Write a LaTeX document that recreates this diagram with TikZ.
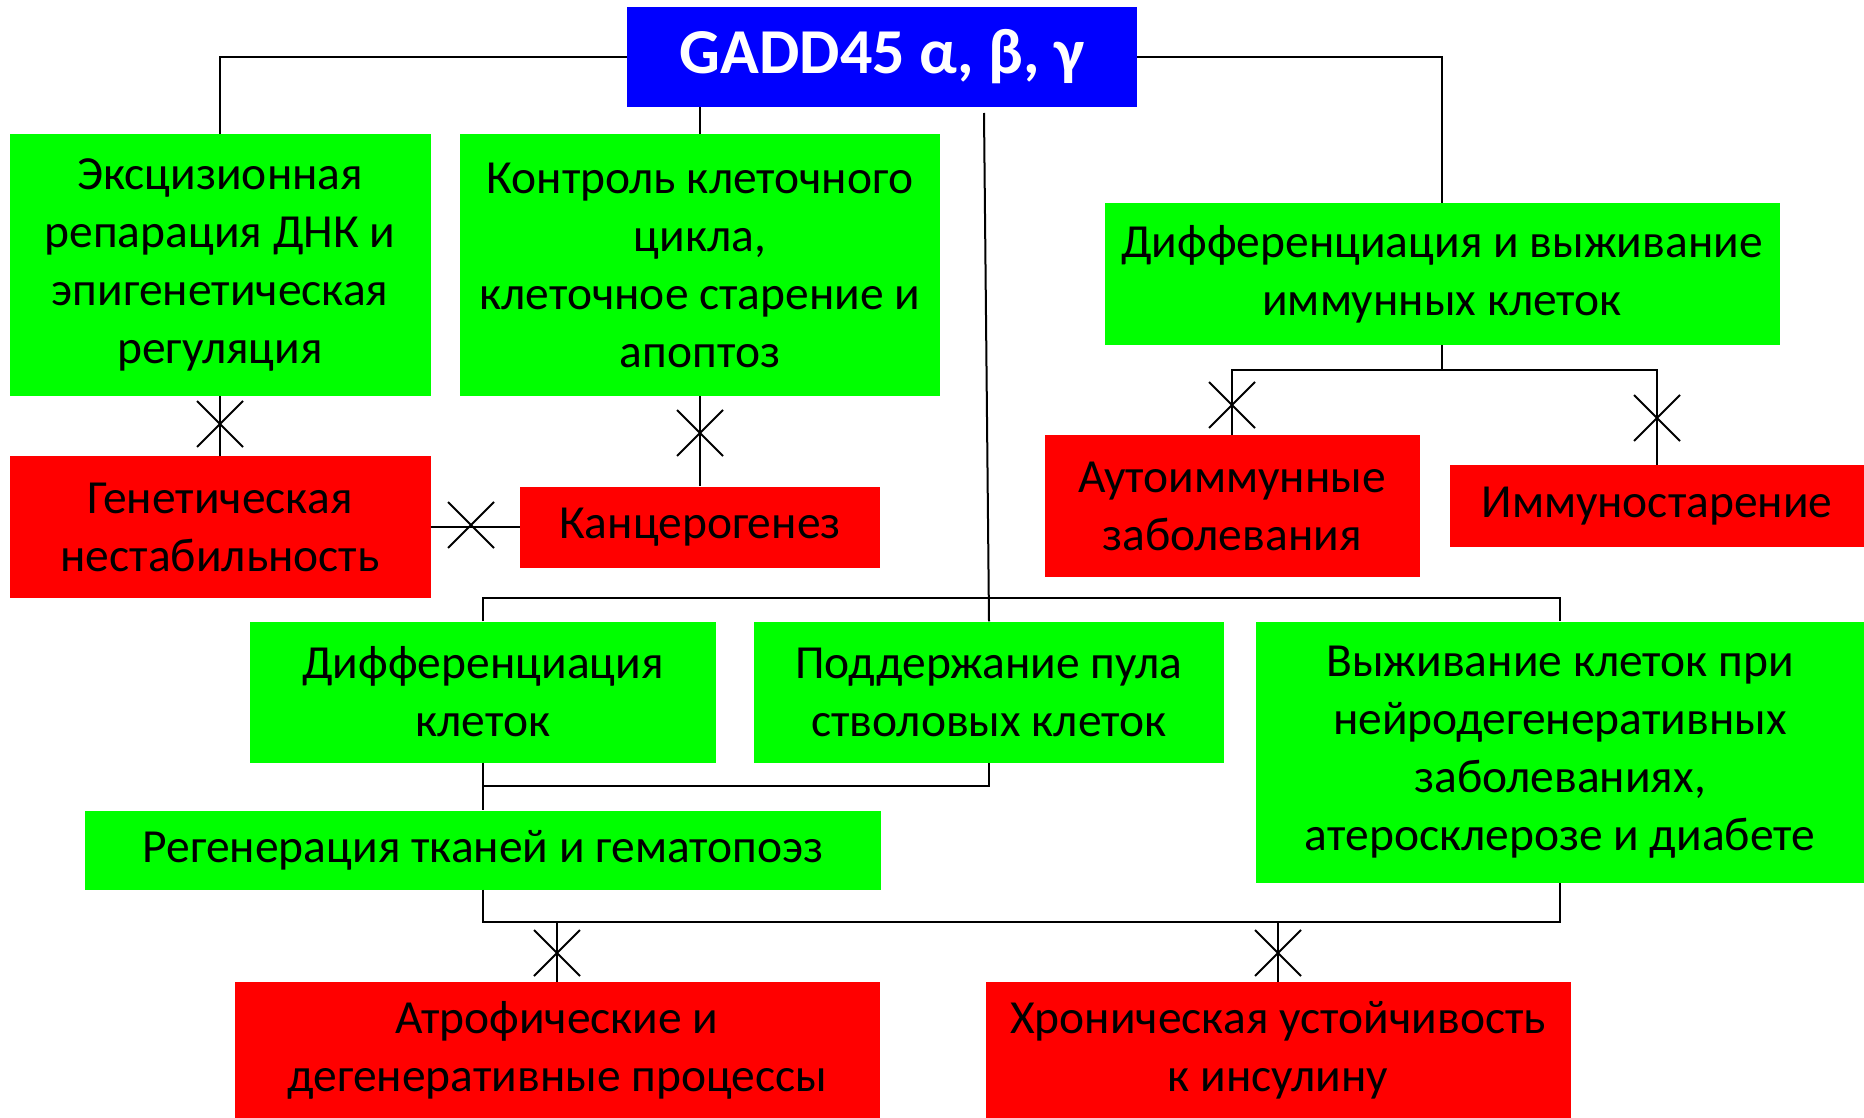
\documentclass[tikz,border=0pt]{standalone}
\usepackage{fontspec}
\setmainfont{Carlito}
\definecolor{gbl}{RGB}{0,0,255}
\definecolor{ggr}{RGB}{0,255,0}
\definecolor{grd}{RGB}{255,0,0}
\tikzset{
  box/.style={inner sep=0pt, align=center, font=\fontsize{47.5}{58}\selectfont, text=black},
  greenbox/.style={box, fill=ggr},
  redbox/.style={box, fill=grd},
  conn/.style={line width=2pt, black},
  xcross/.pic={\draw[line width=2pt] (-23,-23) -- (23,23) (-23,23) -- (23,-23);}
}
\begin{document}
\begin{tikzpicture}[x=1pt,y=-1pt]
\useasboundingbox (0,0) rectangle (1864,1118);
\fill[white] (0,0) rectangle (1864,1118);
% nodes
\node[box, fill=gbl, text=white, font=\fontsize{64}{72}\selectfont\bfseries, minimum width=510, minimum height=100] (gadd) at (882,57) {GADD45 α, β, γ};
\node[greenbox, minimum width=421, minimum height=262] (b1) at (220,265) {Эксцизионная\\репарация ДНК и\\эпигенетическая\\регуляция};
\node[greenbox, minimum width=480, minimum height=262] (b2) at (700,265) {Контроль клеточного\\цикла,\\клеточное старение и\\апоптоз};
\node[greenbox, minimum width=675, minimum height=142] (b3) at (1442,274) {Дифференциация и выживание\\иммунных клеток};
\node[redbox, minimum width=421, minimum height=142] (gen) at (220,527) {Генетическая\\нестабильность};
\node[redbox, minimum width=360, minimum height=81] (kanc) at (700,527) {Канцерогенез};
\node[redbox, minimum width=375, minimum height=142] (auto) at (1232,506) {Аутоиммунные\\заболевания};
\node[redbox, minimum width=414, minimum height=82] (immuno) at (1657,506) {Иммуностарение};
\node[greenbox, minimum width=466, minimum height=141] (diff) at (483,692) {Дифференциация\\клеток};
\node[greenbox, minimum width=470, minimum height=141] (podd) at (989,692) {Поддержание пула\\стволовых клеток};
\node[greenbox, minimum width=609, minimum height=261] (vyzh) at (1560,752) {Выживание клеток при\\нейродегенеративных\\заболеваниях,\\атеросклерозе и диабете};
\node[greenbox, minimum width=796, minimum height=79] (regen) at (483,850) {Регенерация тканей и гематопоэз};
\node[redbox, minimum width=645, minimum height=136] (atro) at (557,1050) {Атрофические и\\дегенеративные процессы};
\node[redbox, minimum width=585, minimum height=136] (hron) at (1278,1050) {Хроническая устойчивость\\к инсулину};
% coordinates
\coordinate (s1) at (984,113);
\coordinate (hL) at (483,598);
\coordinate (hR) at (1560,598);
\coordinate (j3) at (1442,370);
\coordinate (j4) at (483,786);
\coordinate (j5) at (483,922);
% connectors
\draw[conn] (gadd.west) -| (b1.north);
\draw[conn] (gadd.south -| b2.north) -- (b2.north);
\draw[conn] (gadd.east) -| (b3.north);
\draw[conn] (s1) -- (podd.north);
\draw[conn] (diff.north) -- (hL) -- (hR) -- (vyzh.north);
\draw[conn] (b1.south) -- (gen.north);
\draw[conn] (b2.south) -- (kanc.north);
\draw[conn] (gen.east) -- (kanc.west);
\draw[conn] (b3.south) -- (j3);
\draw[conn] (auto.north) |- (j3) -| (immuno.north);
\draw[conn] (diff.south) -- (regen.north);
\draw[conn] (j4) -| (podd.south);
\draw[conn] (regen.south) -- (j5) -| (vyzh.south);
\draw[conn] (atro.north) -- (atro.north |- j5);
\draw[conn] (hron.north) -- (hron.north |- j5);
% crosses
\pic at (220,424) {xcross};
\pic at (700,433) {xcross};
\pic at (471,525) {xcross};
\pic at (1232,405) {xcross};
\pic at (1657,418) {xcross};
\pic at (557,953) {xcross};
\pic at (1278,953) {xcross};
\end{tikzpicture}
\end{document}
